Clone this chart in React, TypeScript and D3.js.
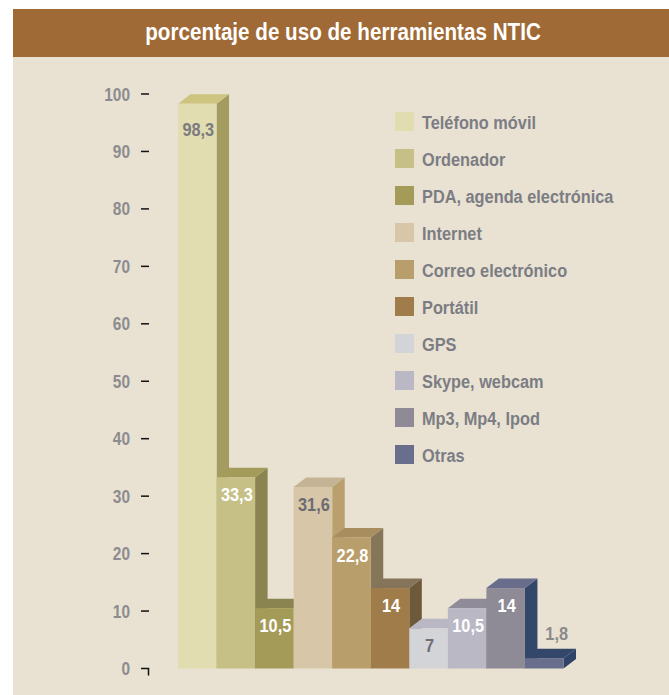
import { useRef, useEffect } from 'react';
import * as d3 from 'd3';

const categories = [
  'Teléfono móvil',
  'Ordenador',
  'PDA, agenda electrónica',
  'Internet',
  'Correo electrónico',
  'Portátil',
  'GPS',
  'Skype, webcam',
  'Mp3, Mp4, Ipod',
  'Otras',
];
const values = [98.3, 33.3, 10.5, 31.6, 22.8, 14, 7, 10.5, 14, 1.8];
const valueLabels = ['98,3', '33,3', '10,5', '31,6', '22,8', '14', '7', '10,5', '14', '1,8'];
const yTicks = [0, 10, 20, 30, 40, 50, 60, 70, 80, 90, 100];

// front / top / side shades per bar
const frontColors = ['#e1ddb1', '#c6c086', '#a59b58', '#d8c6a8', '#b89e6a', '#9f7c4a', '#d3d4d8', '#bbb8c6', '#8e8a96', '#686e8c'];
const topColors = ['#cdc47f', '#a39b5a', '#8a8450', '#c5b396', '#a88d5e', '#85735a', '#b9b7c3', '#8f8b98', '#676d8b', '#33476a'];
const sideColors = ['#a39b5f', '#8a8450', '#7f7949', '#b9a06e', '#85765a', '#6d5a3b', '#a9a7b4', '#7d7a88', '#33476a', '#2f4468'];
const labelColors = ['#7b7b80', '#fff', '#fff', '#6b6b73', '#fff', '#fff', '#6e6e74', '#fff', '#fff', '#8a8a8c'];

const W = 669;
const H = 695;
const FONT = '"Liberation Sans", Arial, sans-serif';
const NARROW = 0.86; // squeeze Arial-like glyphs to look like a narrow face

type G = d3.Selection<SVGGElement, unknown, null, undefined>;

const narrowText = (
  parent: G,
  x: number,
  y: number,
  str: string,
  size: number,
  fill: string,
  anchor = 'start',
) => {
  parent
    .append('g')
    .attr('transform', `translate(${x},${y}) scale(${NARROW},1)`)
    .append('text')
    .attr('text-anchor', anchor)
    .attr('font-family', FONT)
    .attr('font-weight', 'bold')
    .attr('font-size', `${size}px`)
    .attr('fill', fill)
    .text(str);
};

export default function App() {
  const svgRef = useRef<SVGSVGElement>(null);

  useEffect(() => {
    if (!svgRef.current) return;
    const svg = d3.select(svgRef.current);
    svg.selectAll('*').remove();
    const root = svg.append('g') as G;

    const x = d3.scaleBand<string>().domain(categories).range([178, 563.5]).padding(0);
    const y = d3.scaleLinear().domain([0, 100]).range([668.5, 94]);
    const dx = 12.5;
    const dy = 9.5;

    // background + title bar
    root.append('rect').attr('x', 13).attr('y', 9).attr('width', W - 13).attr('height', H - 9).attr('fill', '#e9e2d2');
    root.append('rect').attr('x', 13).attr('y', 9).attr('width', W - 13).attr('height', 48).attr('fill', '#9f6a35');
    narrowText(root, 343, 40, 'porcentaje de uso de herramientas NTIC', 24, '#fff', 'middle');

    // y axis
    const axis = root.append('g') as G;
    yTicks.forEach((t) => {
      narrowText(axis, 130, y(t) + 6.5, String(t), 18, '#8c8c90', 'end');
      const path = t === 0
        ? `M141,${y(t)}H148.5V${y(t) + 7}`
        : `M141,${y(t)}H149`;
      axis.append('path').attr('d', path).attr('fill', 'none').attr('stroke', '#111').attr('stroke-width', 1.5);
    });

    // 3D bars, drawn left to right so each front covers the previous side
    const bars = root.append('g') as G;
    values.forEach((v, i) => {
      const x0 = x(categories[i])!;
      const x1 = x0 + x.bandwidth();
      const yt = y(v);
      const yb = y(0);
      bars
        .append('path')
        .attr('d', `M${x1},${yt}L${x1 + dx},${yt - dy}L${x1 + dx},${yb - dy}L${x1},${yb}Z`)
        .attr('fill', sideColors[i]);
      bars
        .append('path')
        .attr('d', `M${x0},${yt}L${x0 + dx},${yt - dy}L${x1 + dx},${yt - dy}L${x1},${yt}Z`)
        .attr('fill', topColors[i]);
      bars
        .append('rect')
        .attr('x', x0)
        .attr('y', yt)
        .attr('width', x.bandwidth())
        .attr('height', yb - yt)
        .attr('fill', frontColors[i]);
    });

    // value labels (inside the front face; tiny bars get theirs above)
    values.forEach((v, i) => {
      const cx = x(categories[i])! + x.bandwidth() / 2;
      const small = v < 5;
      const ly = small ? y(v) - 18 : y(v) + Math.max(24, 33 * (v / 100) + 16 * (1 - v / 100));
      narrowText(bars, small ? cx + dx : cx + 1, ly, valueLabels[i], 19, labelColors[i], 'middle');
    });

    // legend
    const legend = root.append('g').attr('transform', 'translate(395,121.5)') as G;
    categories.forEach((c, i) => {
      const row = legend.append('g').attr('transform', `translate(0,${i * 37})`) as G;
      row.append('rect').attr('x', 0).attr('y', -9.5).attr('width', 19).attr('height', 19).attr('fill', frontColors[i]);
      narrowText(row, 27, 7, c, 19, '#7c7d84');
    });
  }, []);

  return (
    <svg
      ref={svgRef}
      width={W}
      height={H}
      style={{ position: 'absolute', left: 0, top: 0, background: '#fff' }}
    />
  );
}
